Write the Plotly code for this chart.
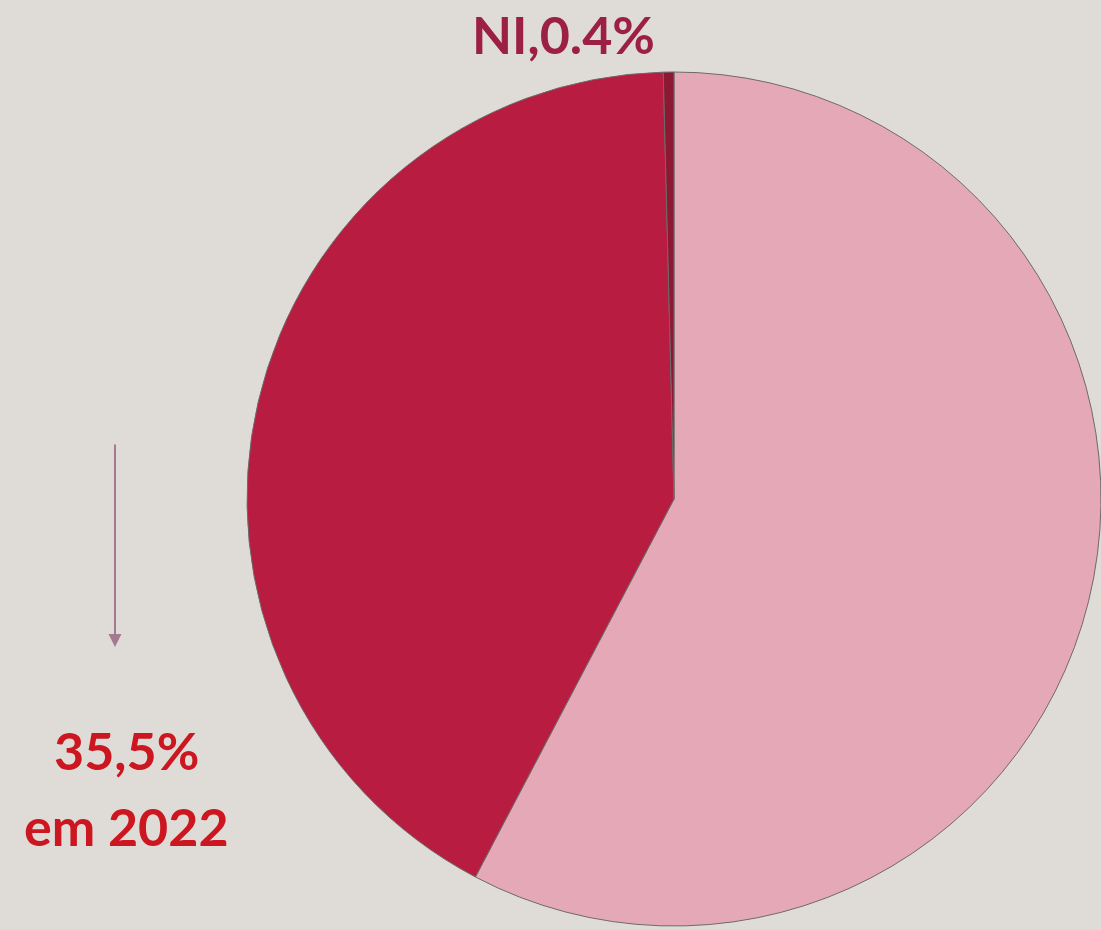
import plotly.graph_objects as go

labels = ['Sim', 'Não', 'NI']
values = [57.7, 41.9, 0.4]
colors = ['#e4a8b7', '#b81c40', '#8c1834']

prev_pct = '35,5%'
prev_year = 'em 2022'

W, H = 1101, 930

trace = go.Pie(labels=labels,
               values=values,
               sort=False,
               direction='clockwise',
               rotation=0,
               marker=dict(colors=colors, line=dict(color='#6e6a68', width=1)),
               textinfo='none',
               hoverinfo='label+percent',
               domain=dict(x=[247 / W, 1.0], y=[2 / H, 860 / H]),
               showlegend=False)

font = 'Lato, "Open Sans", sans-serif'

annotations = [
    dict(text='<b>%s,%s%%</b>' % (labels[2], values[2]),
         x=563 / W, y=1 - 34 / H, xref='paper', yref='paper',
         xanchor='center', yanchor='middle', showarrow=False,
         font=dict(family=font, size=52, color='#9c2045')),
    dict(text='<b>%s</b>' % prev_pct,
         x=126 / W, y=1 - 750 / H, xref='paper', yref='paper',
         xanchor='center', yanchor='middle', showarrow=False,
         font=dict(family=font, size=52, color='#cc1620')),
    dict(text='<b>%s</b>' % prev_year,
         x=126 / W, y=1 - 826 / H, xref='paper', yref='paper',
         xanchor='center', yanchor='middle', showarrow=False,
         font=dict(family=font, size=52, color='#cc1620')),
    dict(text='', x=115 / W, y=1 - 647 / H, xref='paper', yref='paper',
         ax=0, ay=-204, showarrow=True, arrowhead=2, arrowsize=1.3,
         arrowwidth=2, arrowcolor='#a37a92'),
]

layout = go.Layout(width=W, height=H,
                   margin=dict(l=0, r=0, t=0, b=0),
                   paper_bgcolor='#dfdcd8',
                   plot_bgcolor='#dfdcd8',
                   annotations=annotations)

fig = go.Figure(data=[trace], layout=layout)
# drop the browser's default page margin so the figure fills the window
fig.write_html("out.html",
               config={'displayModeBar': False},
               post_script="document.body.style.margin='0';"
                           "document.body.style.overflow='hidden';"
                           "document.body.style.background='#dfdcd8';")
